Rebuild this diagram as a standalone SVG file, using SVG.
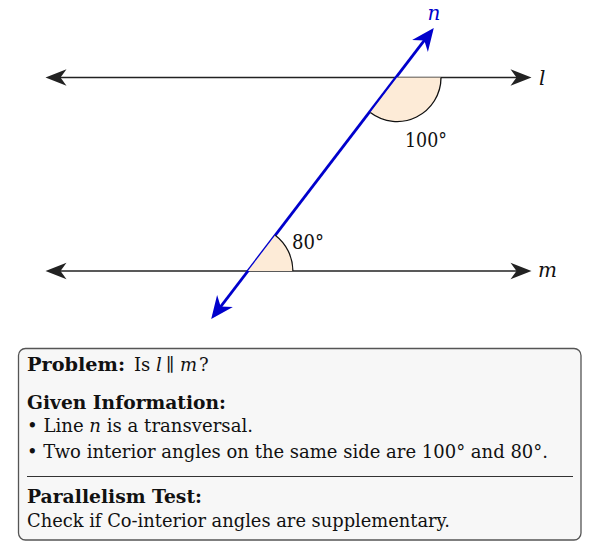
<svg xmlns="http://www.w3.org/2000/svg" width="599" height="558" viewBox="0 0 599 558">
<style>
.txt{font-family:"DejaVu Serif","Liberation Serif",serif;font-size:18px;fill:#111}
.lbl{font-size:20px}
.b{font-weight:bold}
.i{font-style:italic}
.blk{stroke:#222;stroke-width:1.5;fill:none}
.arc{stroke:#111;stroke-width:1.3;fill:none}
.wedge{fill:#fdebd7;stroke:none}
</style>
<defs>
<marker id="ah" markerUnits="userSpaceOnUse" markerWidth="30" markerHeight="30" viewBox="-15 -8 20 16" refX="0" refY="0" orient="auto-start-reverse">
<path d="M3,0 L-11,-5.5 L-7,0 L-11,5.5 Z" fill="#222"/>
</marker>
<marker id="ahb" markerUnits="userSpaceOnUse" markerWidth="34" markerHeight="34" viewBox="-18 -9 24 18" refX="0" refY="0" orient="auto-start-reverse">
<path d="M3,0 L-13,-7 L-8,0 L-13,7 Z" fill="#0000cc"/>
</marker>
</defs>
<rect width="599" height="558" fill="#ffffff"/>
<g id="connectors">
<line id="line-l" class="blk" x1="50" y1="77.5" x2="527" y2="77.5" marker-start="url(#ah)" marker-end="url(#ah)"/>
<line id="line-m" class="blk" x1="50" y1="271" x2="527" y2="271" marker-start="url(#ah)" marker-end="url(#ah)"/>
<line id="line-n" x1="213.8" y1="315.6" x2="431.2" y2="31.4" stroke="#0000cc" stroke-width="2.8" marker-start="url(#ahb)" marker-end="url(#ahb)"/>
</g>
<g id="angle-100">
<path class="wedge" d="M397,77.5 L441,77.5 A44,44 0 0 1 370.3,112.5 Z"/>
<path class="arc" d="M441,77.5 A44,44 0 0 1 370.3,112.5"/>
<text class="txt lbl" x="405" y="146.5" textLength="42" lengthAdjust="spacingAndGlyphs">100°</text>
</g>
<g id="angle-80">
<path class="wedge" d="M247.9,271 L292.9,271 A45,45 0 0 0 275.2,235.3 Z"/>
<path class="arc" d="M292.9,271 A45,45 0 0 0 275.2,235.3"/>
<text class="txt lbl" x="292" y="249" textLength="32" lengthAdjust="spacingAndGlyphs">80°</text>
</g>
<g id="labels">
<text class="txt lbl i" x="434" y="20" text-anchor="middle" style="fill:#0000cc">n</text>
<text class="txt lbl i" x="539" y="85">l</text>
<text class="txt lbl i" x="538" y="277">m</text>
</g>
<g id="info-box">
<rect x="18.5" y="348.5" width="562.5" height="191.5" rx="7" ry="7" fill="#f7f7f7" stroke="#555" stroke-width="1.3"/>
<text class="txt b" x="27" y="371" textLength="98" lengthAdjust="spacingAndGlyphs">Problem:</text>
<text class="txt" y="371"><tspan x="134">Is</tspan><tspan class="i" x="156">l</tspan><tspan x="166">∥</tspan><tspan class="i" x="180">m</tspan><tspan x="199">?</tspan></text>
<text class="txt b" x="27" y="408.5" textLength="199" lengthAdjust="spacingAndGlyphs">Given Information:</text>
<text class="txt" x="27" y="432" textLength="226" lengthAdjust="spacingAndGlyphs">• Line <tspan class="i">n</tspan> is a transversal.</text>
<text class="txt" x="27" y="457.5" textLength="521" lengthAdjust="spacingAndGlyphs">• Two interior angles on the same side are 100° and 80°.</text>
<line x1="27" y1="476.5" x2="573" y2="476.5" stroke="#333" stroke-width="1"/>
<text class="txt b" x="27" y="503" textLength="175" lengthAdjust="spacingAndGlyphs">Parallelism Test:</text>
<text class="txt" x="27" y="527" textLength="423" lengthAdjust="spacingAndGlyphs">Check if Co-interior angles are supplementary.</text>
</g>
</svg>
